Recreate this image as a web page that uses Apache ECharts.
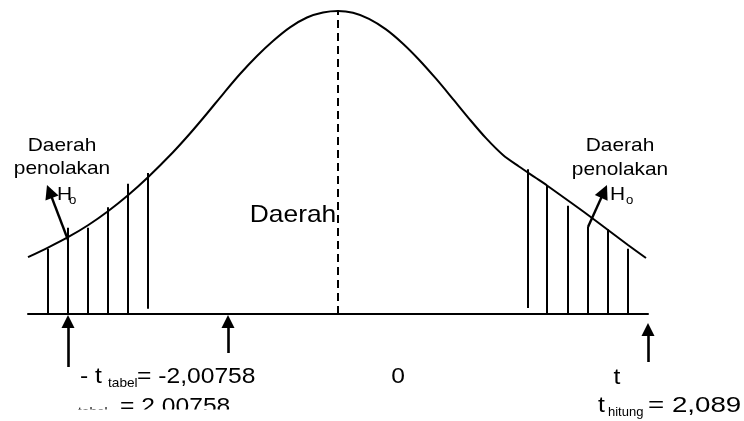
<!DOCTYPE html>
<html>
<head>
<meta charset="utf-8">
<script src="https://cdn.jsdelivr.net/npm/echarts@6/dist/echarts.min.js"></script>
<style>html,body{margin:0;padding:0;background:#fff;}#c{width:744px;height:421px;}</style>
</head>
<body>
<div id="c"></div>
<script>
// Curve (t value, relative density)
const curveT = [-3.10,-2.90,-2.70,-2.50,-2.30,-2.10,-1.90,-1.65,-1.48,-1.31,-1.15,-0.98,-0.81,-0.65,-0.48,-0.31,-0.15,0,0.15,0.31,0.48,0.65,0.81,0.98,1.15,1.31,1.48,1.65,1.81,1.98,2.09,2.30,2.50,2.70,2.90,3.08];
const curveY = [0.0750,0.0877,0.1014,0.1172,0.1357,0.1568,0.1806,0.2136,0.2383,0.2647,0.2904,0.3168,0.3406,0.3604,0.3784,0.3914,0.3980,0.4000,0.3976,0.3896,0.3757,0.3568,0.3357,0.3106,0.2837,0.2580,0.2321,0.2099,0.1947,0.1795,0.1696,0.1498,0.1307,0.1109,0.0911,0.0739];

// Hatching of the rejection regions
const hatchLeftT = [-2.9,-2.7,-2.5,-2.3,-2.1,-1.9];
const hatchLeftTop = [0.086,0.114,0.114,0.141,0.172,0.186];
const hatchLeftBottom = [0,0,0,0,0,0.007];
const hatchRightT = [1.9,2.09,2.3,2.5,2.7,2.9];
const hatchRightTop = [0.191,0.170,0.143,0.115,0.112,0.086];
const hatchRightBottom = [0.008,0,0,0,0,0];

// Upward arrows under the axis
const upArrowT = [-2.7,-1.1,3.1];
const upArrowTail = [-0.070,-0.0515,-0.0634];
const upArrowHead = [-0.0099,-0.0099,-0.0205];

// Arrows pointing to H0 labels
const h0ArrowFrom = [[-2.70,0.0977],[2.50,0.1149]];
const h0ArrowTo = [[-2.885,0.1617],[2.661,0.1618]];

const FONT = '"Liberation Sans", Arial, sans-serif';

const curveData = curveT.map((t,i)=>[t,curveY[i]]);
const hatchData = [];
hatchLeftT.forEach((t,i)=>hatchData.push({coords:[[t,hatchLeftBottom[i]],[t,hatchLeftTop[i]]]}));
hatchRightT.forEach((t,i)=>hatchData.push({coords:[[t,hatchRightBottom[i]],[t,hatchRightTop[i]]]}));
const upData = upArrowT.map((t,i)=>({coords:[[t,upArrowTail[i]],[t,upArrowHead[i]]]}));
const h0Data = h0ArrowFrom.map((p,i)=>({coords:[p,h0ArrowTo[i]]}));

function txt(x,y,text,size,align,sx){
  return {
    type:'text', x:x, y:y, scaleX:(sx||1.1), z:10,
    style:{text:text, x:0, y:0, fill:'#000', font: size+'px '+FONT, align:align||'left', verticalAlign:'middle'}
  };
}

const chart = echarts.init(document.getElementById('c'), null, {renderer:'canvas'});
chart.setOption({
  backgroundColor:'#fff',
  animation:false,
  grid:{left:28,right:96,top:11,bottom:31.25},
  xAxis:{type:'value',min:-3.1,max:3.1,
    axisLine:{show:true,onZero:true,lineStyle:{color:'#000',width:2}},
    axisTick:{show:false},axisLabel:{show:false},splitLine:{show:false}},
  yAxis:{type:'value',min:-0.1,max:0.4,show:false,splitLine:{show:false}},
  series:[
    {type:'line',data:curveData,smooth:0.3,showSymbol:false,symbol:'none',clip:false,
      lineStyle:{color:'#000',width:2}},
    {type:'lines',coordinateSystem:'cartesian2d',clip:false,symbol:'none',
      lineStyle:{color:'#000',width:2,opacity:1},data:hatchData},
    {type:'lines',coordinateSystem:'cartesian2d',clip:false,symbol:'none',
      lineStyle:{color:'#000',width:2,type:[8,5],opacity:1},data:[{coords:[[0,0],[0,0.4]]}]},
    {type:'lines',coordinateSystem:'cartesian2d',clip:false,symbol:['none','triangle'],symbolSize:[15,13],
      lineStyle:{color:'#000',width:2.6,opacity:1},itemStyle:{color:'#000'},data:upData},
    {type:'lines',coordinateSystem:'cartesian2d',clip:false,symbol:['none','triangle'],symbolSize:[11,14],
      lineStyle:{color:'#000',width:2.4,opacity:1},itemStyle:{color:'#000'},data:h0Data}
  ],
  graphic:[
    txt(62,146,'Daerah',19,'center'),
    txt(62,169,'penolakan',19,'center'),
    txt(57,195,'H',19,'left'),
    txt(69,201,'o',12,'left'),
    txt(620,146,'Daerah',19,'center'),
    txt(620,170,'penolakan',19,'center'),
    txt(610,195,'H',19,'left'),
    txt(626,201,'o',12,'left'),
    txt(293,215,'Daerah',24,'center'),
    txt(80,377,'- t',22,'left',1.12),
    txt(108,383,'tabel',13,'left',1.05),
    txt(137,377,'= -2,00758',22,'left',1.12),
    txt(398,377,'0',22,'center',1.12),
    txt(617,378,'t',22,'center',1.12),
    txt(598,406,'t',22,'left',1.12),
    txt(608,412,'hitung',13,'left',1.0),
    txt(648,406,'= 2,089',22,'left',1.26),
    txt(78,412,'tabel',13,'left',1.05),
    txt(120,407,'= 2,00758',22,'left',1.12),
    {type:'rect',z:20,shape:{x:0,y:409.5,width:300,height:12},style:{fill:'#fff'}}
  ]
});
</script>
</body>
</html>
